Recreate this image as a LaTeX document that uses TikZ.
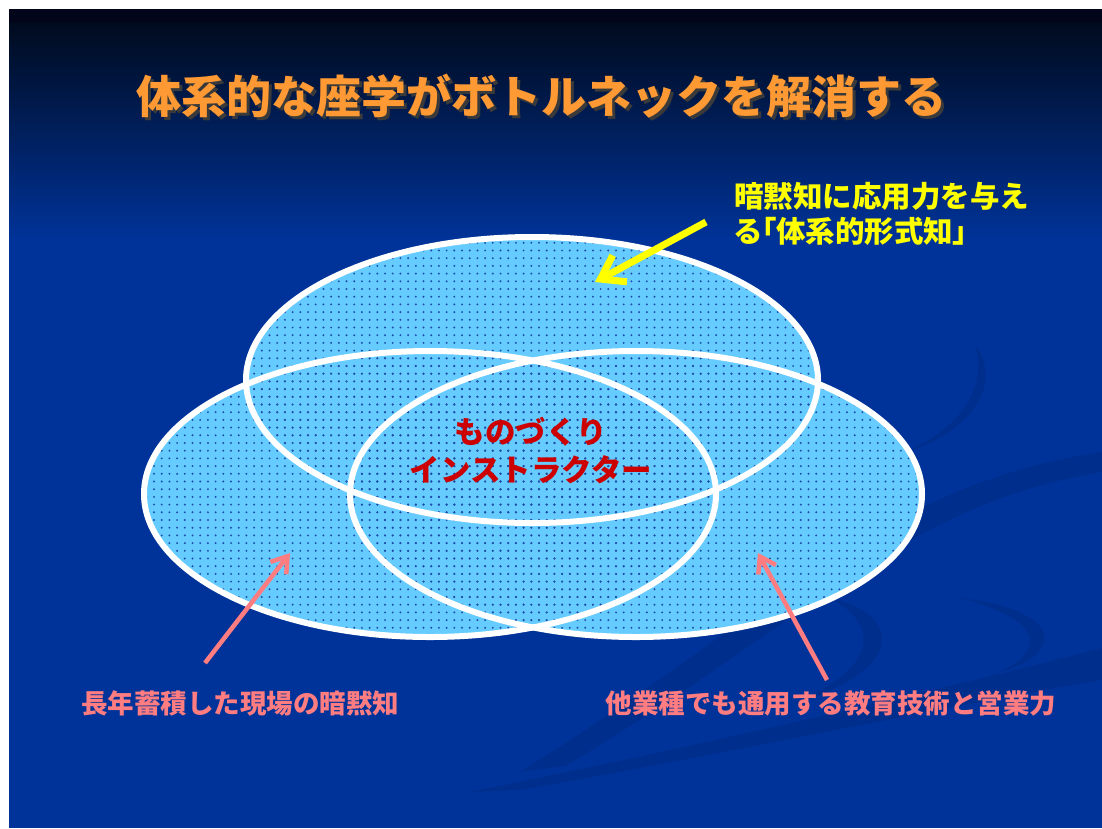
\documentclass[tikz,border=0pt]{standalone}
\usepackage{fontspec}
\newfontfamily\jp{Noto Sans CJK JP}
\newfontfamily\jpp{Noto Sans CJK JP}[RawFeature=+palt]
\usetikzlibrary{arrows.meta,patterns.meta}
\definecolor{bgblue}{HTML}{003399}
\definecolor{bgdark}{HTML}{000B1E}
\definecolor{bgtop}{HTML}{03061A}
\definecolor{bandc}{HTML}{002E8D}
\definecolor{ellfill}{HTML}{66CCFF}
\definecolor{dotc}{HTML}{1F4FA8}
\definecolor{titleor}{HTML}{FF9933}
\definecolor{shadowc}{HTML}{3A3A3A}
\definecolor{ylw}{HTML}{FFFF00}
\definecolor{pinkc}{HTML}{FF7C80}
\definecolor{redc}{HTML}{CC0000}
\tikzset{
  ellfillstyle/.style={fill=ellfill},
  elldots/.style={pattern={Dots[distance=7.7pt,radius=1.1pt]},pattern color=dotc},
  ellline/.style={draw=white,line width=6pt},
  titlefont/.style={font=\jp\bfseries\fontsize{45}{50}\selectfont},
  yellowtext/.style={font=\jp\bfseries\fontsize{29.5}{35}\selectfont,text=ylw,align=left,inner sep=0pt},
  redtext/.style={font=\jp\bfseries\fontsize{30.5}{38}\selectfont,text=redc,align=center,inner sep=0pt},
  pinktext/.style={font=\jp\bfseries\fontsize{26.5}{30}\selectfont,text=pinkc,inner sep=0pt},
  yarrow/.style={draw=ylw,line width=7pt,-{Straight Barb[length=22pt,width=30pt]}},
  parrow/.style={draw=pinkc,line width=4.5pt,-{Straight Barb[length=15pt,width=20pt]}},
}
\begin{document}
\begin{tikzpicture}[x=1pt,y=-1pt]
\useasboundingbox (0,0) rectangle (1102,828);
\fill[white] (0,0) rectangle (1102,828);
\fill[bgblue] (9,9) rectangle (1102,828);
\shade[top color=bgdark,bottom color=bgblue] (9,23) rectangle (1102,240);
\fill[bgtop] (9,9) rectangle (1102,23);
% background swooshes
\fill[bandc] (1102,452) .. controls (880,485) and (780,610) .. (520,772)
  -- (565,766) .. controls (800,628) and (900,505) .. (1102,472) -- cycle;
\fill[bandc] (1102,648) .. controls (900,700) and (700,745) .. (470,792)
  -- (520,790) .. controls (720,755) and (900,715) .. (1102,680) -- cycle;
\fill[bandc] (975,345) .. controls (1003,380) and (975,432) .. (905,452)
  .. controls (962,428) and (988,385) .. (975,345) -- cycle;
\fill[bandc] (830,598) .. controls (905,615) and (905,672) .. (790,705)
  .. controls (880,668) and (880,625) .. (830,598) -- cycle;
\fill[bandc] (960,598) .. controls (1065,610) and (1065,655) .. (1000,672)
  .. controls (1045,650) and (1045,620) .. (960,598) -- cycle;
% ellipses
\coordinate (ctop) at (532,380);
\coordinate (cleft) at (430,494);
\coordinate (cright) at (636,494);
\foreach \c in {ctop,cleft,cright}{
  \path[ellfillstyle] (\c) ellipse [x radius=286pt,y radius=143pt];
}
\foreach \c in {ctop,cleft,cright}{
  \path[elldots] (\c) ellipse [x radius=286pt,y radius=143pt];
}
\foreach \c in {ctop,cleft,cright}{
  \path[ellline] (\c) ellipse [x radius=286pt,y radius=143pt];
}
% title with drop shadow
\node[titlefont,text=titleor,inner sep=0pt] (title) at (541,98)
  {\makebox[0pt][l]{\hspace{3pt}\raisebox{-3pt}{\color{shadowc}体系的な座学がボトルネックを解消する}}体系的な座学がボトルネックを解消する};
% texts
\node[yellowtext,anchor=west] (ytext) at (734,214) {暗黙知に応用力を与え\\{\jpp る「体系的形式知」}};
\node[redtext] (center) at (531,451) {ものづくり\\インストラクター};
\node[pinktext] (ltext) at (240,703) {長年蓄積した現場の暗黙知};
\node[pinktext] (rtext) at (831,703) {他業種でも通用する教育技術と営業力};
% arrows
\coordinate (ya) at (706,222);
\coordinate (yb) at (595,282);
\draw[yarrow] (ya) -- (yb);
\coordinate (la) at (205,663);
\coordinate (lb) at (290,553);
\draw[parrow] (la) -- (lb);
\coordinate (ra) at (827,680);
\coordinate (rb) at (758,553);
\draw[parrow] (ra) -- (rb);
\end{tikzpicture}
\end{document}
